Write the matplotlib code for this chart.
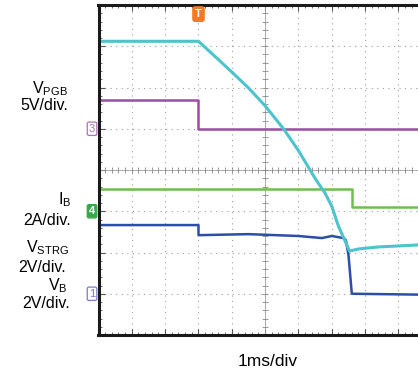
import matplotlib
matplotlib.use('Agg')
import matplotlib.pyplot as plt
import matplotlib.transforms as transforms
import numpy as np

plt.rcParams['font.family'] = ['Liberation Sans', 'DejaVu Sans']
plt.rcParams['mathtext.default'] = 'regular'

# time in ms, trigger at t = 0 (1 ms/div)
t_pgb = [-3, 0, 0, 7]
v_pgb = [3.5, 3.5, 0.0, 0.0]          # V, 5V/div, ground at +1 div

t_ib = [-3, 4.6, 4.6, 7]
i_b = [1.1, 1.1, 0.19, 0.19]          # A, 2A/div, ground at -1 div

t_vb = [-3, 0, 0, 1.5, 3.0, 3.7, 4.0, 4.35, 4.42, 4.5, 4.6, 7]
v_b = [3.33, 3.33, 2.84, 2.89, 2.80, 2.70, 2.80, 2.70, 2.60, 1.88, 0.0, -0.05]   # V, 2V/div, ground at -3 div

t_strg = [-3, 0, 0.5, 1.0, 1.5, 2.0, 2.55, 3.0, 3.5, 3.8, 4.0, 4.2, 4.4, 4.53, 4.8, 5.4, 7]
v_strg = [14.24, 14.24, 13.5, 12.75, 11.98, 11.11, 10.0, 8.94, 7.59, 6.87, 6.24, 5.27, 4.55, 4.07,
          4.17, 4.27, 4.4]  # V, 2V/div, ground at -4 div

# channel settings: scale per div, ground offset in div
channels = {
    'pgb': (5.0, 1.0),
    'ib': (2.0, -1.0),
    'vb': (2.0, -3.0),
    'strg': (2.0, -4.0),
}

def to_div(vals, ch):
    scale, off = channels[ch]
    return np.array(vals) / scale + off

W, H = 418, 378
fig = plt.figure(figsize=(W / 100, H / 100), dpi=100)
ax = fig.add_axes([98.5 / W, (H - 335) / H, 333.3 / W, 330 / H])
ax.set_xlim(-3, 7)
ax.set_ylim(-4, 4)

# scope graticule
ax.set_xticks(np.arange(-3, 8, 1))
ax.set_yticks(np.arange(-4, 5, 1))
ax.set_xticks(np.arange(-3, 7.01, 0.2), minor=True)
ax.set_yticks(np.arange(-4, 4.01, 0.2), minor=True)
ax.tick_params(which='both', direction='in', top=True, right=False, bottom=True, left=True,
               labelbottom=False, labelleft=False, color='#555555')
ax.tick_params(which='major', length=4, width=0.8)
ax.tick_params(which='minor', length=2.5, width=0.6)
ax.grid(which='major', color='#a0a0a0', linestyle=(0, (1, 4)), lw=0.8)
for s in ['top', 'bottom', 'left']:
    ax.spines[s].set_linewidth(2.2)
    ax.spines[s].set_color('#1a1a1a')
ax.spines['right'].set_visible(False)

# center cross with ticks
ax.axhline(0, color='#a0a0a0', lw=0.6)
ax.axvline(2, color='#a0a0a0', lw=0.6)
tt = np.arange(-3, 7.01, 0.2)
yy = np.arange(-4, 4.01, 0.2)
ax.plot(tt, np.zeros_like(tt), ls='none', marker='|', ms=4, mew=0.6, color='#888888')
ax.plot(np.full_like(yy, 2), yy, ls='none', marker='_', ms=4, mew=0.6, color='#888888')

# traces
ax.plot(t_pgb, to_div(v_pgb, 'pgb'), color='#a04aa2', lw=1.8)
ax.plot(t_ib, to_div(i_b, 'ib'), color='#6cc04a', lw=1.8)
ax.plot(t_vb, to_div(v_b, 'vb'), color='#2b4ea6', lw=1.8)
ax.plot(t_strg, to_div(v_strg, 'strg'), color='#4dc3cb', lw=2.2)

# channel ground markers
tr = transforms.blended_transform_factory(ax.transAxes, ax.transData)
ax.text(-0.01, 1.0, '3', transform=tr, ha='right', va='center', fontsize=8, color='#b070b0',
        bbox=dict(boxstyle='round,pad=0.15', fc='white', ec='#b070b0', lw=0.9), clip_on=False)
ax.text(-0.01, -1.0, '4', transform=tr, ha='right', va='center', fontsize=8, color='white',
        fontweight='bold', bbox=dict(boxstyle='round,pad=0.15', fc='#3aa84a', ec='#3aa84a', lw=0.9),
        clip_on=False)
ax.text(-0.01, -3.0, '1', transform=tr, ha='right', va='center', fontsize=8, color='#7a7ac8',
        bbox=dict(boxstyle='round,pad=0.15', fc='white', ec='#7a7ac8', lw=0.9), clip_on=False)

# trigger marker
ax.text(0, 3.78, 'T', ha='center', va='center', fontsize=8, color='white', fontweight='bold',
        bbox=dict(boxstyle='round,pad=0.2', fc='#f07a28', ec='#f07a28'), clip_on=False)

# labels
fs = 11.5
def label(x, y, s):
    fig.text(x / W, 1 - y / H, s, ha='right', va='baseline', fontsize=fs)

label(68, 93, r'V$_{PGB}$')
label(68, 110, '5V/div.')
label(71, 204, r'I$_{B}$')
label(71, 225, '2A/div.')
label(69, 252, r'V$_{STRG}$')
label(66, 272, '2V/div.')
label(68, 290, r'V$_{B}$')
label(70, 308, '2V/div.')
fig.text(268 / W, 1 - 362 / H, '1ms/div', ha='center', va='center', fontsize=12.5)

fig.savefig('out.png', dpi=100)
